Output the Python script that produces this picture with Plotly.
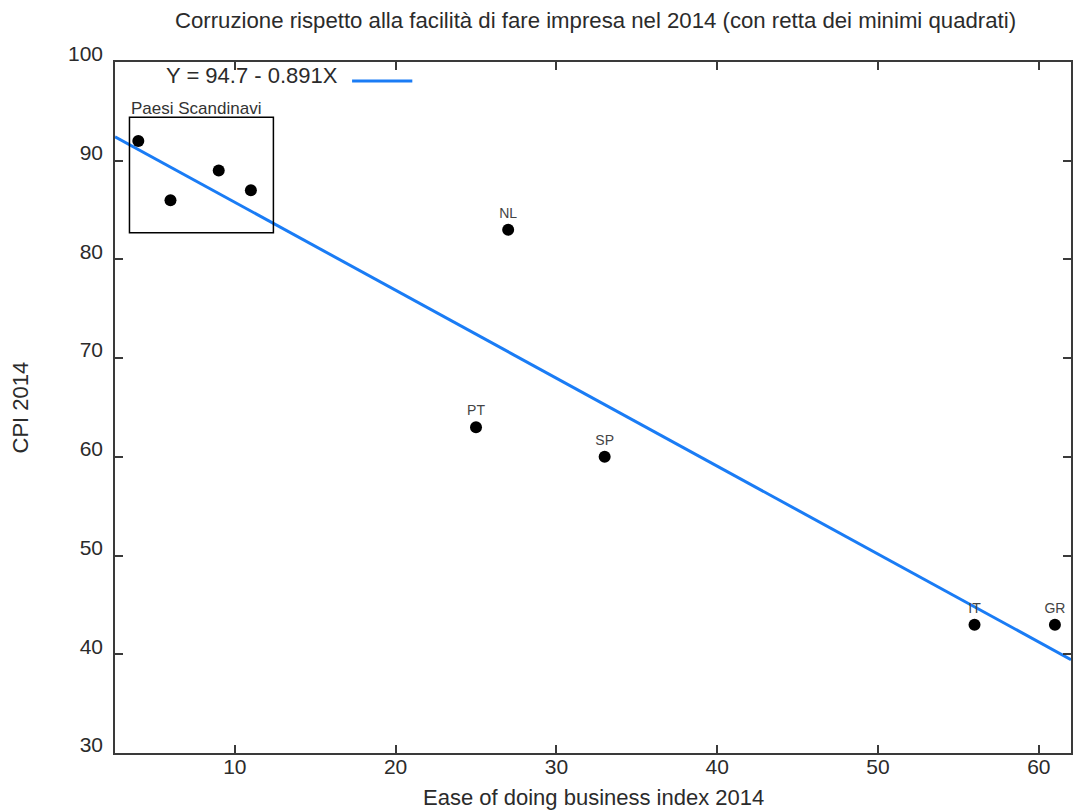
import plotly.graph_objects as go

# Ease of doing business rank vs. CPI score, 2014
ease_index = [4, 6, 9, 11, 27, 25, 33, 56, 61]
cpi_score = [92, 86, 89, 87, 83, 63, 60, 43, 43]
country_labels = ["", "", "", "", "NL", "PT", "SP", "IT", "GR"]

# Least-squares line coefficients
intercept = 94.7
slope = -0.891

x_range = [2.55, 62.0]
y_range = [30, 100]
x_ticks = [10, 20, 30, 40, 50, 60]
y_ticks = [30, 40, 50, 60, 70, 80, 90, 100]

# Frame around the Scandinavian group
group_box = dict(x0=3.45, x1=12.4, y0=82.7, y1=94.4)

FONT = "Liberation Sans, Arial, Helvetica, sans-serif"
TEXT = "#2b2b2b"
AXIS = "#3a3a3a"
BLUE = "#1a7cf5"

fig = go.Figure()

fit_x = list(x_range)
fit_y = [intercept + slope * v for v in fit_x]
fig.add_trace(go.Scatter(
    x=fit_x, y=fit_y, mode="lines",
    line=dict(color=BLUE, width=3), hoverinfo="skip", showlegend=False,
))

fig.add_trace(go.Scatter(
    x=ease_index, y=cpi_score, mode="markers+text",
    text=country_labels, textposition="top center",
    textfont=dict(family=FONT, size=14, color="#444444"),
    marker=dict(color="black", size=12),
    showlegend=False, cliponaxis=False,
))

fig.add_shape(type="rect", xref="x", yref="y", line=dict(color="black", width=1.5),
              fillcolor="rgba(0,0,0,0)", **group_box)
fig.add_annotation(x=group_box["x0"], y=group_box["y1"], xref="x", yref="y",
                   text="Paesi Scandinavi", showarrow=False,
                   xanchor="left", yanchor="bottom", xshift=0, yshift=-3,
                   font=dict(family=FONT, size=17, color="#333333"))

# Equation key with its line sample
eq_text = "Y = %.1f - %.3fX" % (intercept, -slope)
fig.add_annotation(x=0.235, y=0.98, xref="paper", yref="paper",
                   text=eq_text, showarrow=False, xanchor="right", yanchor="middle",
                   font=dict(family=FONT, size=22, color=TEXT))
fig.add_shape(type="line", xref="paper", yref="paper", x0=0.248, x1=0.311,
              y0=0.9725, y1=0.9725, line=dict(color=BLUE, width=3))

# Axis titles
fig.add_annotation(x=0.5, y=0, xref="paper", yref="paper", yshift=-44,
                   text="Ease of doing business index 2014", showarrow=False,
                   xanchor="center", yanchor="middle",
                   font=dict(family=FONT, size=22, color=TEXT))
fig.add_annotation(x=0, y=0.5, xref="paper", yref="paper", xshift=-95,
                   text="CPI 2014", showarrow=False, textangle=-90,
                   xanchor="center", yanchor="middle",
                   font=dict(family=FONT, size=22, color=TEXT))

axis_common = dict(
    showgrid=False, zeroline=False, showline=True, linecolor=AXIS, linewidth=1.5,
    ticks="inside", ticklen=8, tickwidth=1.5, tickcolor=AXIS, mirror="ticks",
    tickfont=dict(family=FONT, size=21, color=TEXT),
)

fig.update_xaxes(range=x_range, tickvals=x_ticks, ticklabelstandoff=-6, **axis_common)
fig.update_yaxes(range=y_range, tickvals=y_ticks, ticklabelstandoff=6,
                 ticklabelshift=-8, **axis_common)

fig.update_layout(
    width=1073, height=811,
    margin=dict(l=115, r=0, t=62, b=58),
    paper_bgcolor="white", plot_bgcolor="white",
    title=dict(text="Corruzione rispetto alla facilità di fare impresa nel 2014 (con retta dei minimi quadrati)",
               x=0.555, xanchor="center", y=1 - 20 / 811, yanchor="middle",
               font=dict(family=FONT, size=22.2, color=TEXT)),
)

fig.write_html("out.html")
